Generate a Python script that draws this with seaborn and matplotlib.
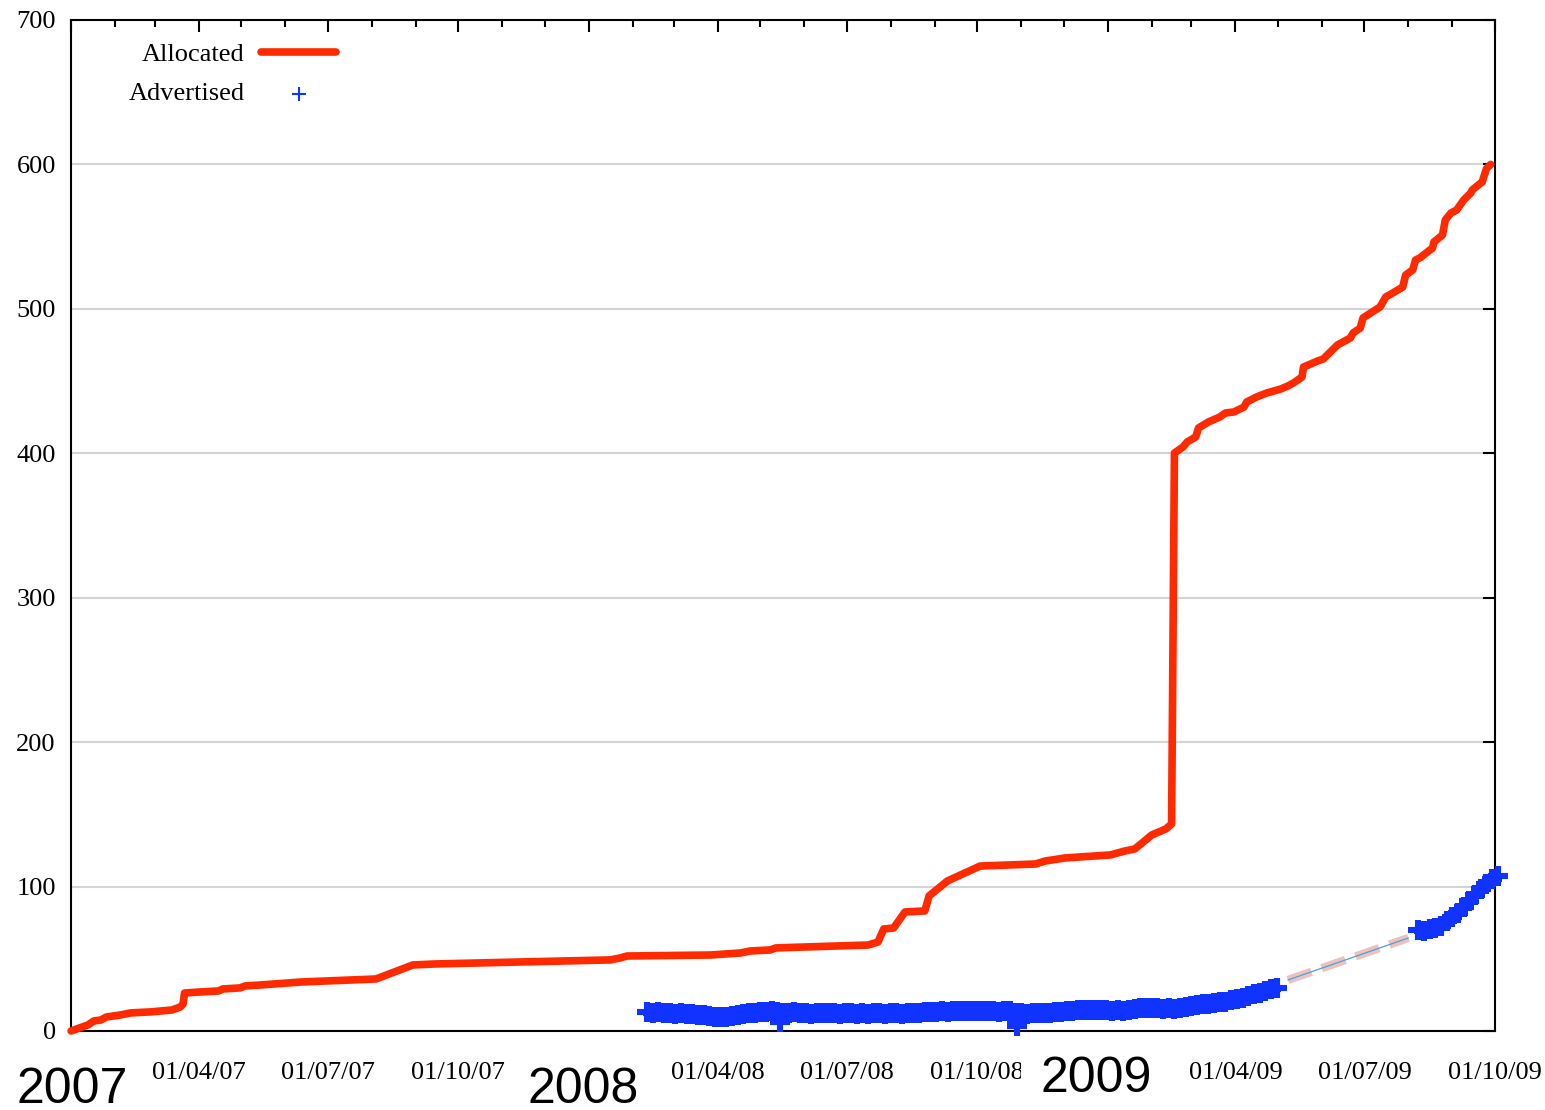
import pandas as pd
import seaborn as sns
import matplotlib.pyplot as plt
import matplotlib.dates as mdates
import matplotlib.ticker as mticker
from matplotlib.transforms import blended_transform_factory

origin = pd.Timestamp("2007-01-01")

# Allocated: days since 2007-01-01 and cumulative count
alloc_day = [0, 6, 12, 16, 21, 25, 35, 42, 56, 71, 77, 79, 80, 91, 104, 107, 119, 123, 133, 162,
             215, 241, 257, 380, 387, 392, 451, 472, 479, 493, 497, 542, 562, 569, 573, 580, 588,
             602, 605, 618, 641, 680, 687, 701, 733, 743, 750, 757, 762, 772, 776, 778, 784, 787,
             793, 795, 802, 810, 814, 820, 827, 829, 836, 843, 853, 858, 862, 868, 869, 879, 883,
             893, 902, 904, 909, 911, 923, 927, 932, 939, 941, 946, 948, 951, 960, 961, 967, 969,
             973, 977, 982, 987, 988, 994, 995, 998, 1001]
alloc_val = [0, 2.1, 4.2, 6.9, 7.6, 9.7, 11.1, 12.5, 13.2, 14.5, 16.6, 18.7, 26.3, 27, 27.7, 29.1,
             29.8, 31.2, 31.8, 33.9, 36, 45.7, 46.4, 49.2, 50.5, 51.9, 52.6, 54, 55.4, 56.1, 57.5,
             58.9, 59.5, 61.6, 70.6, 71.3, 82.4, 83.1, 93.5, 103.9, 114.2, 115.6, 117.7, 119.8,
             121.9, 124.6, 126, 131.6, 135.7, 139.9, 143.3, 400.2, 404.3, 407.8, 411.3, 417.5,
             421.7, 425.1, 427.9, 428.6, 432, 435.5, 439, 441.7, 444.5, 446.6, 448.7, 452.8, 459.7,
             463.9, 465.3, 475, 479.8, 483.3, 486.7, 493.7, 501.3, 508.2, 511, 515.1, 523.4, 526.9,
             533.8, 535.2, 542.1, 546.3, 551.1, 561.5, 566.4, 568.4, 575.4, 580.2, 582.3, 587.1,
             587.8, 597, 600]

# Advertised, sampled every 4 days (first block Feb 2008 - Apr 2009)
adv1_start = "2008-02-11"
adv1_val = [12.8, 12.5, 13, 12.3, 12.6, 12, 12.2, 11.8, 11.5, 11.2,
            10.8, 10.2, 9.8, 9.5, 9.9, 10.6, 11.4, 11.8, 12.4, 12.1,
            12.8, 13.2, 13.6, 13.1, 12.7, 12.4, 12.9, 12.2, 12.5, 11.9,
            12.3, 12.6, 12.1, 12.4, 11.8, 12.2, 12.5, 12, 12.3, 11.7,
            12.1, 12.4, 11.9, 12.6, 12.2, 11.8, 12.3, 12.7, 12.1, 12.9,
            13.4, 13.1, 13.6, 13.2, 13.9, 13.5, 13.7, 14.1, 13.8, 13.6,
            14, 13.7, 13.4, 13.9, 13.5, 12.2, 12.6, 11.9, 12.4, 12.1,
            12.6, 12.3, 12.8, 13.2, 13.6, 14.1, 14.5, 14.3, 14.8, 14.6,
            14.2, 14.4, 13.9, 14.3, 14.1, 14.7, 15.2, 15.6, 15.9, 16.1,
            15.8, 15.5, 15.7, 15.3, 15.9, 16.8, 17.6, 18.2, 18.5, 19,
            19.4, 19.8, 20.3, 21.2, 22, 22.8, 24.3, 25.6, 26.4, 27.8, 28.9, 29.5]
# second block Aug - Oct 2009
adv2_start = "2009-08-08"
adv2_val = [70, 69.5, 70.5, 71, 73, 76, 79, 82, 86, 90, 94, 98, 102, 105, 107]
# stray low readings
adv_extra_date = ["2008-05-15", "2008-10-29", "2008-10-29"]
adv_extra_val = [6.2, 6.2, 3.5]

# missing stretch drawn as dashed link
gap_date = ["2009-05-08", "2009-08-01"]
gap_val = [35.3, 64.4]

year_labels = ["2007", "2008", "2009"]

alloc = pd.DataFrame({"date": origin + pd.to_timedelta(alloc_day, unit="D"), "value": alloc_val})
adv = pd.concat([
    pd.DataFrame({"date": pd.date_range(adv1_start, periods=len(adv1_val), freq="4D"), "value": adv1_val}),
    pd.DataFrame({"date": pd.to_datetime(adv_extra_date), "value": adv_extra_val}),
    pd.DataFrame({"date": pd.date_range(adv2_start, periods=len(adv2_val), freq="4D"), "value": adv2_val}),
])
gap = pd.DataFrame({"date": pd.to_datetime(gap_date), "value": gap_val})

sns.set_style("white")
plt.rcParams["font.family"] = ["Liberation Serif", "DejaVu Serif"]
plt.rcParams["text.color"] = "black"
plt.rcParams["xtick.labelcolor"] = "black"
plt.rcParams["ytick.labelcolor"] = "black"

fig = plt.figure(figsize=(15.45, 11.10), dpi=100)
ax = fig.add_axes([0.046, 0.0712, 0.9216, 0.9108])

red = "#ff2a00"
blue = "#1033ff"

n0 = len(ax.lines)
sns.lineplot(data=gap, x="date", y="value", ax=ax, color="#e8c3bf", zorder=2)
pink = ax.lines[n0]
pink.set_linewidth(6)
pink.set_linestyle((0, (3.0, 1.3)))
pink.set_solid_capstyle("butt")
pink.set_dash_capstyle("butt")
n1 = len(ax.lines)
sns.lineplot(data=gap, x="date", y="value", ax=ax, color="#5b9bd5", zorder=2.1)
ax.lines[n1].set_linewidth(0.9)

sns.scatterplot(data=adv, x="date", y="value", ax=ax, marker="+", s=200, linewidth=4.4,
                color=blue, label="Advertised", zorder=3, clip_on=False)
sns.lineplot(data=alloc, x="date", y="value", ax=ax, color=red, linewidth=5.5, estimator=None,
             sort=False, label="Allocated", zorder=4, clip_on=False)

ax.set_xlim(pd.Timestamp("2007-01-01"), pd.Timestamp("2009-10-01"))
ax.set_ylim(0, 700)
ax.set_xlabel("")
ax.set_ylabel("")

ax.xaxis.set_major_locator(mdates.MonthLocator(bymonth=[1, 4, 7, 10]))
ax.xaxis.set_minor_locator(mdates.MonthLocator())


def quarter_label(x, pos):
    d = mdates.num2date(x)
    return "" if d.month == 1 else d.strftime("%d/%m/%y")


ax.xaxis.set_major_formatter(mticker.FuncFormatter(quarter_label))
ax.yaxis.set_major_locator(mticker.MultipleLocator(100))

ax.grid(axis="y", color="#d4d4d4", linewidth=1.5)
ax.grid(axis="x", visible=False)
ax.set_axisbelow(True)
for s in ax.spines.values():
    s.set_visible(True)
    s.set_color("black")
    s.set_linewidth(1.5)
ax.tick_params(which="both", direction="in", top=True, right=True, color="black", width=1.5)
ax.tick_params(which="major", length=8.5, labelsize=19)
ax.tick_params(which="minor", length=5)
ax.tick_params(axis="x", which="major", pad=22)
ax.tick_params(axis="y", which="major", pad=11)

trans = blended_transform_factory(ax.transData, ax.transAxes)
year_pos = [("2007-01-02", -0.058), ("2007-12-28", -0.058), ("2008-12-24", -0.048)]
for lab, (d, yy) in zip(year_labels, year_pos):
    t = ax.text(mdates.date2num(pd.Timestamp(d)), yy, lab, transform=trans, ha="center",
                va="center", fontsize=36, color="black",
                family=["Liberation Sans", "DejaVu Sans"], zorder=5)
    if lab == "2009":
        t.set_bbox(dict(facecolor="white", edgecolor="none", pad=14))

handles, labels = ax.get_legend_handles_labels()
order = [labels.index("Allocated"), labels.index("Advertised")]
leg = ax.legend([handles[i] for i in order], [labels[i] for i in order], loc="upper left",
                bbox_to_anchor=(0.033, 0.988), frameon=False, markerfirst=False, fontsize=19,
                handlelength=2.85, handletextpad=0.62, labelspacing=0.6, borderaxespad=0)
try:
    leg._legend_box._children[-1]._children[0].align = "right"
except Exception:
    pass
try:
    leg.legend_handles[1].set_linewidth(1.5)
    leg.legend_handles[1].set_sizes([110])
except Exception:
    pass

fig.savefig("out.png", dpi=100)
